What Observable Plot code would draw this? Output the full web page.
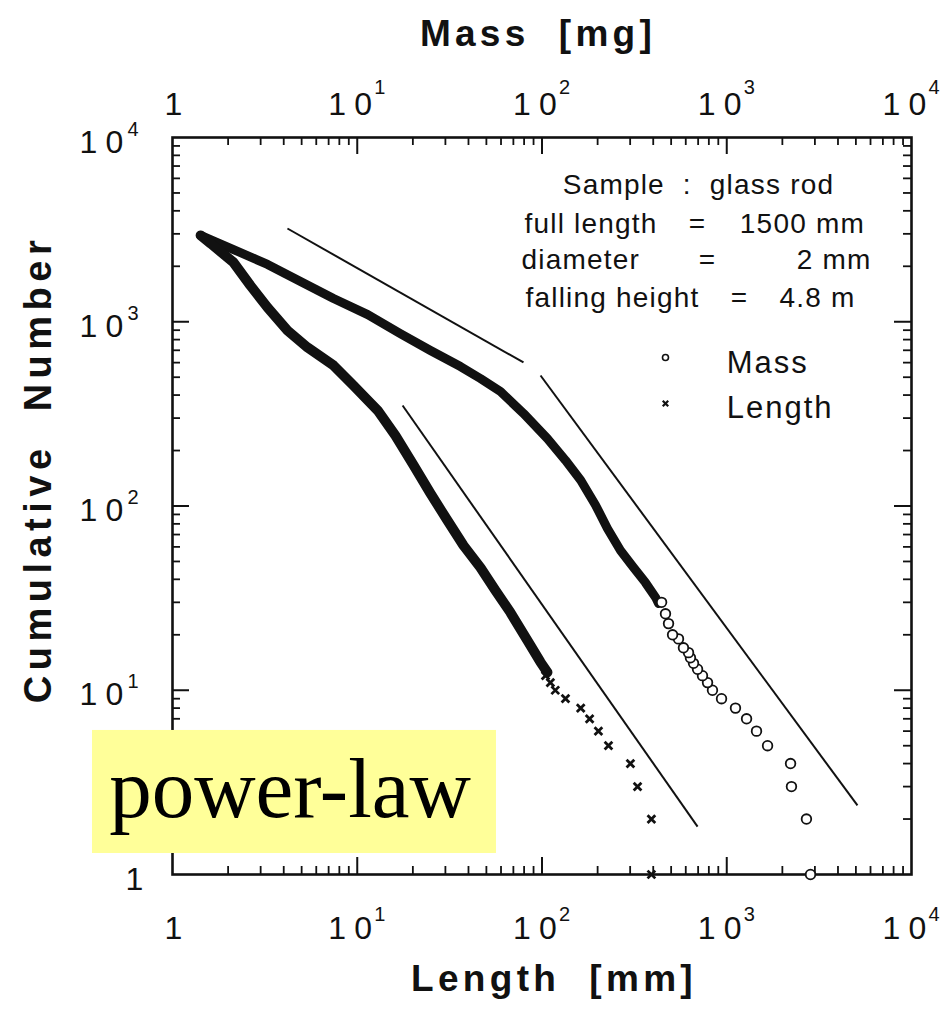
<!DOCTYPE html>
<html>
<head>
<meta charset="utf-8">
<script src="https://cdn.jsdelivr.net/npm/d3@7"></script>
<script src="https://cdn.jsdelivr.net/npm/@observablehq/plot@0.6"></script>
<style>
  body { margin: 0; background: #fff; }
  svg text { white-space: pre; }
</style>
</head>
<body>
<div id="chart"></div>
<script>
// ---- data ----
const decadeValues = [1, 10, 100, 1000, 10000];
const decadeBases = ["1", "10", "10", "10", "10"];
const decadeExponents = ["", "1", "2", "3", "4"];
const minorTicks = [2,3,4,5,6,7,8,9,20,30,40,50,60,70,80,90,200,300,400,500,600,700,800,900,2000,3000,4000,5000,6000,7000,8000,9000];
const majorTicks = [10, 100, 1000];

// Mass (circles): dense part of the curve, then the sparse tail
const massDenseX = [1.42, 2.14, 3.27, 4.93, 7.44, 11.4, 17.1, 24.9, 36.2, 46.4, 59.6, 79.4, 107, 134, 162, 195, 226, 266, 313, 363, 412, 427];
const massDenseY = [2940, 2466, 2046, 1653, 1337, 1094, 863, 698, 571, 492, 418, 318, 232, 177, 138, 101, 75.5, 57.3, 46.4, 38.4, 31.9, 29.6];
const massTailX = [2840, 2700, 2240, 2215, 1663, 1449, 1280, 1115, 937, 837, 787, 739, 695, 661, 636, 621, 583, 548, 509, 484, 466, 444];
const massTailY = [1, 2, 3, 4, 5, 6, 7, 8, 9, 10, 11, 12, 13, 14, 15, 16, 17, 19, 20, 23, 26, 30];

// Length (crosses)
const lengthDenseX = [1.42, 1.61, 2.14, 2.64, 3.27, 4.19, 5.38, 7.44, 9.54, 12.9, 16.1, 20.2, 24.9, 30.8, 37.6, 46.4, 56.0, 67.5, 83.5, 98.2, 107];
const lengthDenseY = [2940, 2660, 2098, 1573, 1195, 897, 725, 579, 451, 330, 241, 166, 117, 83.4, 61.0, 46.4, 34.8, 26.4, 18.6, 14.2, 12.5];
const lengthTailX = [391, 391, 329, 301, 229, 202, 181, 162, 134, 118, 111, 104.5];
const lengthTailY = [1, 2, 3, 4, 5, 6, 7, 8, 9, 10, 11, 12];

// power-law reference lines
const fitX1 = [4.19, 98.2, 17.6];
const fitY1 = [3207, 511, 351];
const fitX2 = [79.4, 5100, 695];
const fitY2 = [601, 2.37, 1.82];

// texts
const xTitleBottom = "Length  [mm]";
const xTitleTop = "Mass  [mg]";
const yTitle = "Cumulative  Number";
const legendLabels = ["Mass", "Length"];
const noteTitle = "Sample  :  glass rod";
const noteNames = ["full length", "diameter", "falling height"];
const noteValues = ["1500 mm", "2 mm", "4.8 m"];
const badge = "power-law";

// ---- tables ----
const pts = (xs, ys) => xs.map((x, i) => ({x, y: ys[i]}));
const massDense = pts(massDenseX, massDenseY);
const massTail = pts(massTailX, massTailY);
const lengthDense = pts(lengthDenseX, lengthDenseY);
const lengthTail = pts(lengthTailX, lengthTailY);
const fits = fitX1.map((x1, i) => ({x1, y1: fitY1[i], x2: fitX2[i], y2: fitY2[i]}));
const labels = decadeValues.map((v, i) => ({v, d1: decadeBases[i][0], d2: decadeBases[i][1] || "", exp: decadeExponents[i]}));
const ones = labels.filter(d => d.exp === "");
const tens = labels.filter(d => d.exp !== "");

// annotation anchor points (data coordinates)
const noteRows = [
  {name: noteNames[0], value: noteValues[0], xs: 80.4, xe: 695, xv: 5600, y: 3050},
  {name: noteNames[1], value: noteValues[1], xs: 77.5, xe: 787, xv: 6075, y: 1945},
  {name: noteNames[2], value: noteValues[2], xs: 81.4, xe: 1172, xv: 4977, y: 1195}
];
const legendRows = [
  {label: legendLabels[0], mx: 466, my: 640, tx: 1000, ty: 524},
  {label: legendLabels[1], mx: 466, my: 360, tx: 1000, ty: 302}
];

const W = 946, H = 1009;
const mL = 172, mR = 35, mT = 137, mB = 135;
const innerW = W - mL - mR, innerH = H - mT - mB;
const font = "Liberation Sans, Arial, Helvetica, sans-serif";
const ink = "#111";

// helper building the "10^k" tick label marks for one side
function tickLabels(side, o) {
  const chan = side === "bottom" || side === "top" ? {x: "v"} : {y: "v"};
  const base = {...chan, frameAnchor: side, lineAnchor: "bottom", textAnchor: "start", fill: ink};
  return [
    Plot.text(ones, {...base, text: "d1", dx: o.oneDx, dy: o.dy, fontSize: 32}),
    Plot.text(tens, {...base, text: "d1", dx: o.tenDx, dy: o.dy, fontSize: 32}),
    Plot.text(tens, {...base, text: "d2", dx: o.tenDx + 26, dy: o.dy, fontSize: 32}),
    Plot.text(tens, {...base, text: "exp", dx: o.expDx, dy: o.expDy, fontSize: 20})
  ];
}

const plot = Plot.plot({
  width: W, height: H,
  marginLeft: mL, marginRight: mR, marginTop: mT, marginBottom: mB,
  x: {type: "log", domain: [1, 10000], axis: null},
  y: {type: "log", domain: [1, 10000], axis: null},
  style: {background: "#fff", fontFamily: font, color: ink},
  marks: [
    // ticks (inside the frame, all four sides)
    Plot.ruleX(minorTicks, {x: d => d, insetTop: innerH - 8, stroke: ink, strokeWidth: 1.8}),
    Plot.ruleX(minorTicks, {x: d => d, insetBottom: innerH - 8, stroke: ink, strokeWidth: 1.8}),
    Plot.ruleY(minorTicks, {y: d => d, insetRight: innerW - 8, stroke: ink, strokeWidth: 1.8}),
    Plot.ruleY(minorTicks, {y: d => d, insetLeft: innerW - 8, stroke: ink, strokeWidth: 1.8}),
    Plot.ruleX(majorTicks, {x: d => d, insetTop: innerH - 17, stroke: ink, strokeWidth: 2}),
    Plot.ruleX(majorTicks, {x: d => d, insetBottom: innerH - 17, stroke: ink, strokeWidth: 2}),
    Plot.ruleY(majorTicks, {y: d => d, insetRight: innerW - 17, stroke: ink, strokeWidth: 2}),
    Plot.ruleY(majorTicks, {y: d => d, insetLeft: innerW - 17, stroke: ink, strokeWidth: 2}),
    Plot.frame({stroke: ink, strokeWidth: 2.6}),

    // tick labels
    ...tickLabels("bottom", {oneDx: -8, tenDx: -29, dy: 64, expDx: 17, expDy: 46}),
    ...tickLabels("top", {oneDx: -8, tenDx: -29, dy: -23, expDx: 17, expDy: -44}),
    ...tickLabels("left", {oneDx: -47, tenDx: -93, dy: 15, expDx: -45, expDy: -2}),

    // axis titles
    Plot.text([xTitleBottom], {text: d => d, frameAnchor: "bottom", lineAnchor: "bottom", textAnchor: "middle", dx: 12, dy: 116, fontSize: 37, fontWeight: "bold", fill: ink}),
    Plot.text([xTitleTop], {text: d => d, frameAnchor: "top", lineAnchor: "bottom", textAnchor: "middle", dx: -4, dy: -92, fontSize: 37, fontWeight: "bold", fill: ink}),
    Plot.text([yTitle], {text: d => d, frameAnchor: "left", lineAnchor: "bottom", textAnchor: "middle", rotate: -90, dx: -122, dy: -37, fontSize: 38, fontWeight: "bold", fill: ink}),

    // power-law reference lines
    Plot.link(fits, {x1: "x1", y1: "y1", x2: "x2", y2: "y2", stroke: ink, strokeWidth: 2}),

    // data: Mass
    Plot.line(massDense, {x: "x", y: "y", stroke: ink, strokeWidth: 9, strokeLinejoin: "round", strokeLinecap: "round"}),
    Plot.dot(massTail, {x: "x", y: "y", r: 4.8, stroke: ink, strokeWidth: 1.8, fill: "#fff"}),
    // data: Length
    Plot.line(lengthDense, {x: "x", y: "y", stroke: ink, strokeWidth: 10, strokeLinejoin: "round", strokeLinecap: "round"}),
    Plot.dot(lengthTail, {x: "x", y: "y", symbol: "times", r: 3.6, stroke: ink, strokeWidth: 2.8}),

    // legend
    Plot.dot(legendRows.slice(0, 1), {x: "mx", y: "my", r: 3, stroke: ink, strokeWidth: 1.6, fill: "#fff"}),
    Plot.dot(legendRows.slice(1), {x: "mx", y: "my", symbol: "times", r: 2.6, stroke: ink, strokeWidth: 2.2}),
    Plot.text(legendRows, {x: "tx", y: "ty", text: "label", textAnchor: "start", lineAnchor: "bottom", fontSize: 31, fill: ink}),

    // annotation block
    Plot.text([noteTitle], {text: d => d, x: () => 703, y: () => 4966, textAnchor: "middle", lineAnchor: "bottom", fontSize: 28, fill: ink}),
    Plot.text(noteRows, {x: "xs", y: "y", text: "name", textAnchor: "start", lineAnchor: "bottom", fontSize: 28, fill: ink}),
    Plot.text(noteRows, {x: "xe", y: "y", text: () => "=", textAnchor: "middle", lineAnchor: "bottom", fontSize: 28, fill: ink}),
    Plot.text(noteRows, {x: "xv", y: "y", text: "value", textAnchor: "end", lineAnchor: "bottom", fontSize: 28, fill: ink}),

    // yellow "power-law" badge
    Plot.rect([badge], {x1: () => 0.369, x2: () => 56.7, y1: () => 1.30, y2: () => 6.05, fill: "#ffff99"}),
    Plot.text([badge], {text: d => d, x: () => 0.454, y: () => 2.04, textAnchor: "start", lineAnchor: "bottom", fontSize: 85, fontFamily: "Liberation Serif, Times New Roman, serif", fill: "#000"})
  ]
});

// letter spacing per text group (keyed on font size)
const spacing = {"37": "4.3px", "38": "5.5px", "28": "1.2px", "31": "2px"};
plot.querySelectorAll("g[font-size]").forEach(g => {
  const s = spacing[String(parseFloat(g.getAttribute("font-size")))];
  if (s) g.setAttribute("letter-spacing", s);
});

document.getElementById("chart").appendChild(plot);
</script>
</body>
</html>
